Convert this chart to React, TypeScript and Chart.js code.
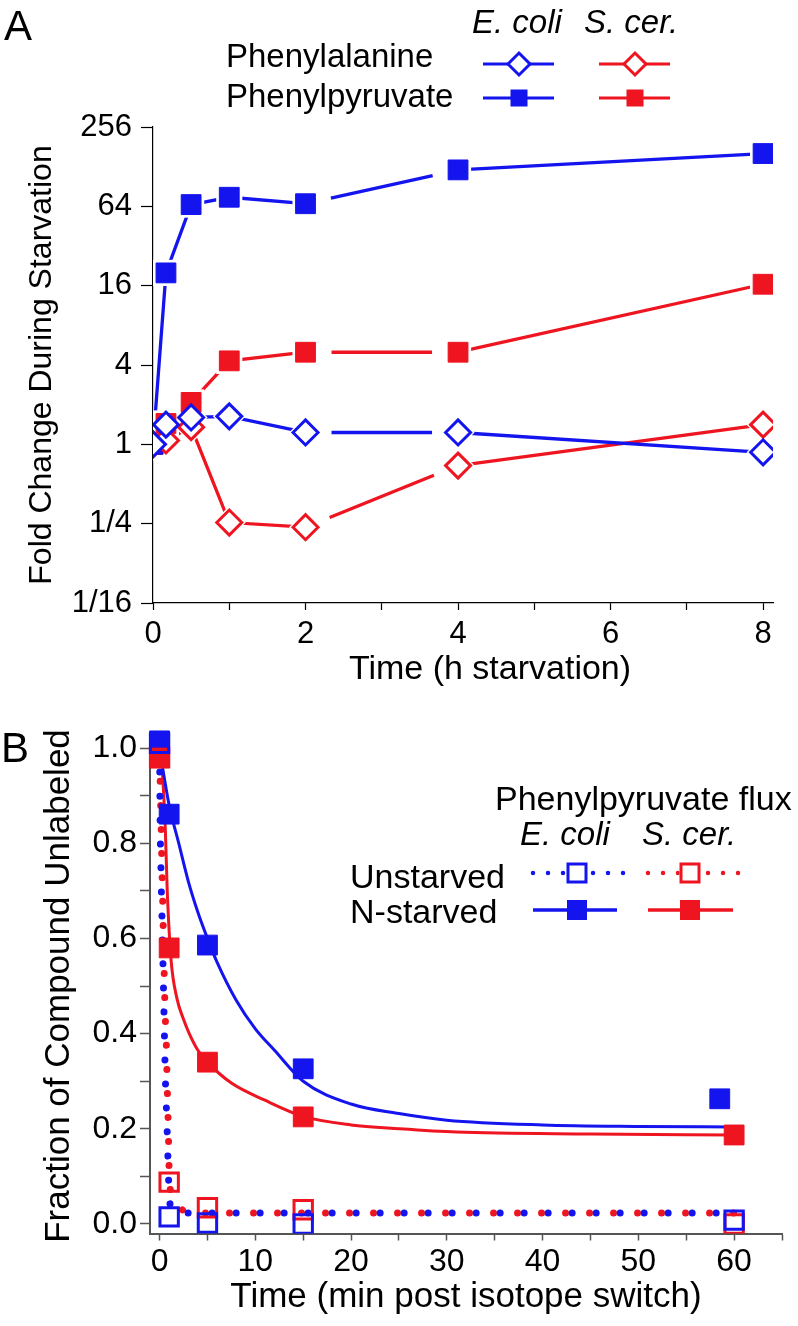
import React, { useEffect, useRef } from 'react';
import { Chart, registerables } from 'chart.js';

Chart.register(...registerables);

const FONT = '"Liberation Sans", Arial, Helvetica, sans-serif';
const BLUE = '#1414ee';
const RED = '#ee1420';

// ---------- Panel A data ----------
const TIME_H = [0, 0.17, 0.5, 1, 2, 4, 8];
const PHE_ECOLI = [1, 1.41, 1.6, 1.63, 1.23, 1.23, 0.87];
const PHE_SCER = [1, 1.07, 1.35, 0.255, 0.235, 0.69, 1.41];
const PPY_ECOLI = [1, 20, 66, 75, 67, 121, 161];
const PPY_SCER = [1, 1.44, 2.08, 4.3, 5.0, 5.0, 16.4];
const A_X_TICKS = [0, 1, 2, 3, 4, 5, 6, 7, 8];
const A_X_LABELS = ['0', '', '2', '', '4', '', '6', '', '8'];
const A_Y_TICKS = [1 / 16, 1 / 4, 1, 4, 16, 64, 256];
const A_Y_LABELS = ['1/16', '1/4', '1', '4', '16', '64', '256'];
const A_ROWS = ['Phenylalanine', 'Phenylpyruvate'];
const SPECIES = ['E. coli', 'S. cer.'];
const A_X_TITLE = 'Time (h starvation)';
const A_Y_TITLE = 'Fold Change During Starvation';

// ---------- Panel B data ----------
const TIME_MIN = [0, 1, 5, 15, 60];
const TIME_MIN_ECOLI_N = [0, 1, 5, 15, 58.5];
const NSTARVED_ECOLI = [1.015, 0.861, 0.586, 0.326, 0.263];
const NSTARVED_SCER = [0.979, 0.58, 0.34, 0.225, 0.187];
const UNSTARVED_ECOLI = [1.01, 0.015, 0.002, 0.0, 0.008];
const UNSTARVED_SCER = [0.98, 0.088, 0.034, 0.03, 0.0];
const FIT_T_N_ECOLI = [0.3, 1, 2, 3, 4, 5, 6, 8, 10, 12, 15, 20, 25, 30, 40, 50, 60];
const FIT_N_ECOLI = [0.96, 0.88, 0.8, 0.72, 0.655, 0.6, 0.55, 0.47, 0.41, 0.365, 0.3, 0.252, 0.232, 0.218, 0.208, 0.205, 0.204];
const FIT_T_N_SCER = [0.3, 0.6, 0.8, 1.2, 1.8, 2.5, 3.1, 4, 5, 7.5, 11, 15, 20, 25, 31, 45, 60];
const FIT_N_SCER = [0.95, 0.83, 0.7, 0.555, 0.475, 0.43, 0.4, 0.365, 0.34, 0.296, 0.26, 0.226, 0.208, 0.2, 0.193, 0.189, 0.187];
const FIT_T_U_ECOLI = [0, 0.05, 0.15, 0.3, 0.45, 0.6, 0.78, 0.92, 1.02, 1.3, 1.7, 60];
const FIT_U_ECOLI = [1.0, 0.86, 0.74, 0.6, 0.455, 0.31, 0.205, 0.107, 0.057, 0.03, 0.023, 0.023];
const FIT_T_U_SCER = [0, 0.05, 0.3, 0.58, 0.7, 0.8, 0.92, 1.02, 1.25, 1.6, 2.2, 3.1, 60];
const FIT_U_SCER = [0.98, 0.94, 0.7, 0.445, 0.38, 0.29, 0.195, 0.097, 0.065, 0.05, 0.033, 0.023, 0.023];
const B_X_TICKS = [0, 5, 10, 15, 20, 25, 30, 35, 40, 45, 50, 55, 60, 65];
const B_X_LABELS = ['0', '', '10', '', '20', '', '30', '', '40', '', '50', '', '60', ''];
const B_Y_TICKS = [0, 0.1, 0.2, 0.3, 0.4, 0.5, 0.6, 0.7, 0.8, 0.9, 1.0];
const B_Y_LABELS = ['0.0', '', '0.2', '', '0.4', '', '0.6', '', '0.8', '', '1.0'];
const B_ROWS = ['Unstarved', 'N-starved'];
const B_LEGEND_TITLE = 'Phenylpyruvate flux';
const B_X_TITLE = 'Time (min post isotope switch)';
const B_Y_TITLE = 'Fraction of Compound Unlabeled';

const zip = (xs: number[], ys: number[]) => xs.map((x, i) => ({ x, y: ys[i] }));

// ---------- drawing helpers for legends ----------
function sampleLine(ctx: CanvasRenderingContext2D, x0: number, x1: number, y: number, color: string, w = 3.2) {
  ctx.save();
  ctx.strokeStyle = color;
  ctx.lineWidth = w;
  ctx.beginPath();
  ctx.moveTo(x0, y);
  ctx.lineTo(x1, y);
  ctx.stroke();
  ctx.restore();
}
function dottedLine(ctx: CanvasRenderingContext2D, x0: number, x1: number, y: number, color: string) {
  ctx.save();
  ctx.strokeStyle = color;
  ctx.lineWidth = 4.5;
  ctx.lineCap = 'round';
  ctx.setLineDash([0.001, 15]);
  ctx.beginPath();
  ctx.moveTo(x0, y);
  ctx.lineTo(x1, y);
  ctx.stroke();
  ctx.restore();
}
function drawDiamond(ctx: CanvasRenderingContext2D, cx: number, cy: number, r: number, color: string) {
  ctx.save();
  ctx.beginPath();
  ctx.moveTo(cx, cy - r);
  ctx.lineTo(cx + r, cy);
  ctx.lineTo(cx, cy + r);
  ctx.lineTo(cx - r, cy);
  ctx.closePath();
  ctx.fillStyle = '#fff';
  ctx.fill();
  ctx.strokeStyle = color;
  ctx.lineWidth = 3;
  ctx.stroke();
  ctx.restore();
}
function drawSquare(ctx: CanvasRenderingContext2D, cx: number, cy: number, side: number, color: string, filled: boolean) {
  ctx.save();
  if (filled) {
    ctx.fillStyle = color;
    ctx.fillRect(cx - side / 2, cy - side / 2, side, side);
  } else {
    ctx.fillStyle = '#fff';
    ctx.fillRect(cx - side / 2, cy - side / 2, side, side);
    ctx.strokeStyle = color;
    ctx.lineWidth = 3;
    ctx.strokeRect(cx - side / 2 + 1.5, cy - side / 2 + 1.5, side - 3, side - 3);
  }
  ctx.restore();
}

// Gap at both ends of the 2 h -> 4 h connecting lines (as in the reference):
// the dash pattern is computed from the point elements that Chart.js laid out.
const gapPlugin = {
  id: 'gapEnds',
  beforeDatasetsDraw(chart: any) {
    chart.data.datasets.forEach((ds: any, i: number) => {
      if (!ds.gapEnds) return;
      const meta = chart.getDatasetMeta(i);
      const pts = meta.data;
      const line = meta.dataset;
      if (!line || !pts || pts.length < 2) return;
      const L = Math.hypot(pts[1].x - pts[0].x, pts[1].y - pts[0].y);
      const g = ds.gapEnds;
      if (!isFinite(L) || L <= 2 * g) return;
      const dash = [0, g, L - 2 * g, 4000];
      try {
        line.options.borderDash = dash;
      } catch (e) {
        line.options = { ...line.options, borderDash: dash };
      }
    });
  },
};

const legendAPlugin = {
  id: 'legendA',
  afterDraw(chart: any) {
    const ctx: CanvasRenderingContext2D = chart.ctx;
    ctx.save();
    ctx.fillStyle = '#000';
    ctx.textAlign = 'left';
    ctx.textBaseline = 'alphabetic';
    ctx.font = `42px ${FONT}`;
    ctx.fillText('A', 4, 40);
    ctx.font = `33px ${FONT}`;
    ctx.fillText(A_ROWS[0], 226, 67);
    ctx.fillText(A_ROWS[1], 226, 107);
    ctx.font = `italic 33px ${FONT}`;
    ctx.fillText(SPECIES[0], 472, 33);
    ctx.fillText(SPECIES[1], 584, 33);
    sampleLine(ctx, 483, 554, 64, BLUE);
    drawDiamond(ctx, 519, 64, 11, BLUE);
    sampleLine(ctx, 599, 670, 64, RED);
    drawDiamond(ctx, 635, 64, 11, RED);
    sampleLine(ctx, 483, 554, 98, BLUE);
    drawSquare(ctx, 519, 98, 17, BLUE, true);
    sampleLine(ctx, 599, 670, 98, RED);
    drawSquare(ctx, 635, 98, 17, RED, true);
    ctx.font = `34px ${FONT}`;
    ctx.textAlign = 'center';
    ctx.textBaseline = 'middle';
    ctx.fillText(A_X_TITLE, 490, 670);
    ctx.restore();
  },
};

const legendBPlugin = {
  id: 'legendB',
  afterDraw(chart: any) {
    const ctx: CanvasRenderingContext2D = chart.ctx;
    ctx.save();
    ctx.fillStyle = '#000';
    ctx.textAlign = 'left';
    ctx.textBaseline = 'alphabetic';
    ctx.font = `42px ${FONT}`;
    ctx.fillText('B', 1, 62);
    ctx.font = `34px ${FONT}`;
    ctx.fillText(B_LEGEND_TITLE, 495, 110);
    ctx.fillText(B_ROWS[0], 350, 188);
    ctx.fillText(B_ROWS[1], 350, 223);
    ctx.font = `italic 33px ${FONT}`;
    ctx.fillText(SPECIES[0], 520, 145);
    ctx.fillText(SPECIES[1], 642, 145);
    dottedLine(ctx, 533, 625, 173, BLUE);
    drawSquare(ctx, 577, 173, 21, BLUE, false);
    dottedLine(ctx, 648, 740, 173, RED);
    drawSquare(ctx, 690, 173, 21, RED, false);
    sampleLine(ctx, 533, 617, 210, BLUE, 3.5);
    drawSquare(ctx, 577, 210, 20, BLUE, true);
    sampleLine(ctx, 648, 733, 210, RED, 3.5);
    drawSquare(ctx, 690, 210, 20, RED, true);
    ctx.restore();
  },
};

function seriesA(xs: number[], ys: number[], color: string, kind: 'diamond' | 'square') {
  const data = zip(xs, ys);
  const style = kind === 'diamond' ? 'rectRot' : 'rect';
  const r = kind === 'diamond' ? 12.5 : 14;
  const halo = kind === 'diamond' ? 16.5 : 18.5;
  const lineBase = {
    showLine: true,
    borderColor: color,
    borderWidth: 3.3,
    pointRadius: 0,
    tension: 0,
    order: 3,
  };
  return {
    lines: [
      { ...lineBase, data: data.slice(0, 5) },
      { ...lineBase, data: data.slice(4, 6), gapEnds: 26 },
      { ...lineBase, data: data.slice(5) },
    ],
    halo: {
      data,
      showLine: false,
      pointStyle: style,
      pointRadius: halo,
      pointBackgroundColor: '#fff',
      pointBorderColor: '#fff',
      pointBorderWidth: 0,
      order: 2,
    },
    marker: {
      data,
      showLine: false,
      pointStyle: style,
      pointRadius: r,
      pointBackgroundColor: kind === 'diamond' ? '#fff' : color,
      pointBorderColor: color,
      pointBorderWidth: kind === 'diamond' ? 3 : 1,
      order: 1,
    },
  };
}

export default function App() {
  const refA = useRef<HTMLCanvasElement>(null);
  const refB = useRef<HTMLCanvasElement>(null);

  useEffect(() => {
    document.body.style.margin = '0';
    const pheE = seriesA(TIME_H, PHE_ECOLI, BLUE, 'diamond');
    const pheS = seriesA(TIME_H, PHE_SCER, RED, 'diamond');
    const ppyE = seriesA(TIME_H, PPY_ECOLI, BLUE, 'square');
    const ppyS = seriesA(TIME_H, PPY_SCER, RED, 'square');

    const chartA = new Chart(refA.current as HTMLCanvasElement, {
      type: 'scatter',
      data: {
        datasets: [
          pheE.marker, pheS.marker, ppyE.marker, ppyS.marker,
          pheE.halo, pheS.halo, ppyE.halo, ppyS.halo,
          ...pheE.lines, ...pheS.lines, ...ppyE.lines, ...ppyS.lines,
        ] as any,
      },
      options: {
        responsive: false,
        animation: false,
        devicePixelRatio: 1,
        events: [],
        layout: { padding: { left: 0, top: 127, right: 25, bottom: 0 } },
        plugins: { legend: { display: false }, tooltip: { enabled: false } },
        scales: {
          x: {
            type: 'linear',
            min: 0,
            max: 8.13,
            afterBuildTicks: (s: any) => { s.ticks = A_X_TICKS.map((v) => ({ value: v })); },
            afterFit: (s: any) => { s.height = 97; },
            ticks: {
              autoSkip: false,
              maxRotation: 0,
              padding: 6,
              color: '#000',
              font: { family: FONT, size: 31 },
              callback: (_v: any, i: number) => A_X_LABELS[i],
            },
            grid: { display: true, drawOnChartArea: false, drawTicks: true, tickLength: 7, tickColor: '#000', tickWidth: 1.2 },
            border: { display: true, color: '#000', width: 1.2 },
          },
          y: {
            type: 'logarithmic',
            min: 1 / 16,
            max: 256,
            afterBuildTicks: (s: any) => { s.ticks = A_Y_TICKS.map((v) => ({ value: v })); },
            afterFit: (s: any) => { s.width = 153; },
            ticks: {
              autoSkip: false,
              padding: 9,
              color: '#000',
              font: { family: FONT, size: 31 },
              callback: (_v: any, i: number) => A_Y_LABELS[i],
            },
            grid: { display: true, drawOnChartArea: false, drawTicks: true, tickLength: 12, tickColor: '#000', tickWidth: 1.2 },
            border: { display: true, color: '#000', width: 1.2 },
            title: {
              display: true,
              text: A_Y_TITLE,
              color: '#000',
              font: { family: FONT, size: 32 },
              padding: { top: 23, bottom: 0 },
            },
          },
        },
      } as any,
      plugins: [gapPlugin, legendAPlugin],
    });

    const markerClip = { left: 30, top: 30, right: 30, bottom: 0 };
    const chartB = new Chart(refB.current as HTMLCanvasElement, {
      type: 'scatter',
      data: {
        datasets: [
          {
            data: zip(TIME_MIN, UNSTARVED_ECOLI), showLine: false, pointStyle: 'rect', pointRadius: 13,
            pointBackgroundColor: 'rgba(0,0,0,0)', pointBorderColor: BLUE, pointBorderWidth: 3, order: 1, clip: markerClip,
          },
          {
            data: zip(TIME_MIN, NSTARVED_SCER), showLine: false, pointStyle: 'rect', pointRadius: 14,
            pointBackgroundColor: RED, pointBorderColor: RED, pointBorderWidth: 1, order: 1, clip: markerClip,
          },
          {
            data: zip(TIME_MIN_ECOLI_N, NSTARVED_ECOLI), showLine: false, pointStyle: 'rect', pointRadius: 14,
            pointBackgroundColor: BLUE, pointBorderColor: BLUE, pointBorderWidth: 1, order: 1, clip: markerClip,
          },
          {
            data: zip(TIME_MIN, UNSTARVED_SCER), showLine: false, pointStyle: 'rect', pointRadius: 13,
            pointBackgroundColor: 'rgba(0,0,0,0)', pointBorderColor: RED, pointBorderWidth: 3, order: 1, clip: markerClip,
          },
          {
            data: zip(FIT_T_N_ECOLI, FIT_N_ECOLI), showLine: true, pointRadius: 0, borderColor: BLUE, borderWidth: 3,
            cubicInterpolationMode: 'monotone', order: 3,
          },
          {
            data: zip(FIT_T_N_SCER, FIT_N_SCER), showLine: true, pointRadius: 0, borderColor: RED, borderWidth: 3,
            cubicInterpolationMode: 'monotone', order: 3,
          },
          {
            data: zip(FIT_T_U_ECOLI, FIT_U_ECOLI), showLine: true, pointRadius: 0, borderColor: BLUE, borderWidth: 7,
            borderDash: [0.001, 24], borderCapStyle: 'round', cubicInterpolationMode: 'monotone', order: 2,
          },
          {
            data: zip(FIT_T_U_SCER, FIT_U_SCER), showLine: true, pointRadius: 0, borderColor: RED, borderWidth: 7,
            borderDash: [0.001, 24], borderCapStyle: 'round', cubicInterpolationMode: 'monotone', order: 2,
          },
        ] as any,
      },
      options: {
        responsive: false,
        animation: false,
        devicePixelRatio: 1,
        events: [],
        layout: { padding: { left: 0, top: 38.5, right: 1, bottom: 0 } },
        plugins: { legend: { display: false }, tooltip: { enabled: false } },
        scales: {
          x: {
            type: 'linear',
            min: -1,
            max: 65,
            afterBuildTicks: (s: any) => { s.ticks = B_X_TICKS.map((v) => ({ value: v })); },
            afterFit: (s: any) => { s.height = 92.5; },
            ticks: {
              autoSkip: false,
              maxRotation: 0,
              padding: 2,
              color: '#000',
              font: { family: FONT, size: 32 },
              callback: (_v: any, i: number) => B_X_LABELS[i],
            },
            grid: { display: true, drawOnChartArea: false, drawTicks: true, tickLength: 7, tickColor: '#555', tickWidth: 1.5 },
            border: { display: true, color: '#555', width: 2 },
            title: {
              display: true,
              text: B_X_TITLE,
              color: '#000',
              font: { family: FONT, size: 35 },
              padding: { top: 0, bottom: 8 },
            },
          },
          y: {
            type: 'linear',
            min: -0.02,
            max: 1.02,
            afterBuildTicks: (s: any) => { s.ticks = B_Y_TICKS.map((v) => ({ value: v })); },
            afterFit: (s: any) => { s.width = 150; },
            ticks: {
              autoSkip: false,
              padding: 3,
              color: '#000',
              font: { family: FONT, size: 32 },
              callback: (_v: any, i: number) => B_Y_LABELS[i],
            },
            grid: { display: true, drawOnChartArea: false, drawTicks: true, tickLength: 10, tickColor: '#555', tickWidth: 1.5 },
            border: { display: true, color: '#555', width: 2 },
            title: {
              display: true,
              text: B_Y_TITLE,
              color: '#000',
              font: { family: FONT, size: 35 },
              padding: { top: 38, bottom: 0 },
            },
          },
        },
      } as any,
      plugins: [legendBPlugin],
    });

    return () => {
      chartA.destroy();
      chartB.destroy();
    };
  }, []);

  return (
    <div style={{ position: 'relative', width: 798, height: 1326, background: '#fff' }}>
      <canvas ref={refA} width={798} height={700} style={{ position: 'absolute', left: 0, top: 0 }} />
      <canvas ref={refB} width={798} height={626} style={{ position: 'absolute', left: 0, top: 700 }} />
    </div>
  );
}
